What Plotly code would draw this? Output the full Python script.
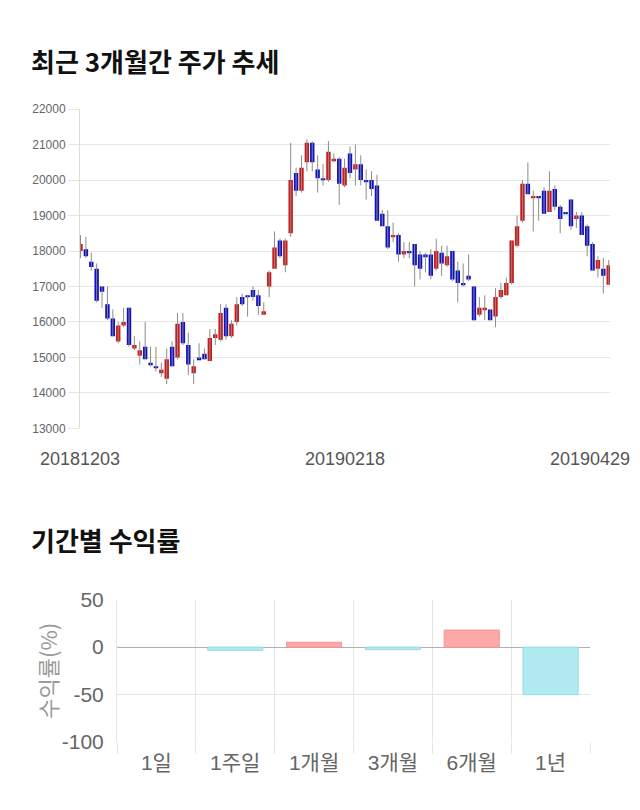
import plotly.graph_objects as go
import pandas as pd

# ---- data -------------------------------------------------------------
holidays = ["2018-12-25", "2018-12-31", "2019-01-01", "2019-02-04",
            "2019-02-05", "2019-02-06", "2019-03-01"]
dates = [d.strftime("%Y%m%d") for d in
         pd.bdate_range("2018-12-03", "2019-04-29")
         if d.strftime("%Y-%m-%d") not in holidays]

opens = [18000, 18050, 17700, 17500, 17000, 16500, 16100, 15450, 15900, 16400,
         15250, 15050, 15300, 14850, 14750, 14550, 14400, 15300, 15000, 16000,
         15350, 14550, 15000, 15100, 14900, 15550, 15500, 16400, 15600, 16000,
         16700, 16750, 16900, 16750, 16200, 17000, 17500, 18300, 17600, 18500,
         20200, 19700, 20500, 21050, 20300, 20050, 20000, 20550, 20600, 19850,
         20750, 20300, 20450, 20000, 20000, 19850, 19050, 18700, 18400, 18450,
         17900, 18000, 18200, 17900, 17900, 17900, 17500, 17950, 17600, 18000,
         17450, 17100, 17300, 17000, 16200, 16350, 16350, 16150, 16700, 16750,
         17100, 18150, 18850, 19900, 19500, 19550, 19700, 19100, 19750, 19250,
         19100, 19450, 18900, 19000, 18700, 18200, 17500, 17500, 17050]
highs = [18450, 18400, 17950, 17650, 17000, 17000, 16350, 16000, 16400, 16400,
         15600, 15450, 16000, 15300, 15300, 14850, 15250, 15450, 16250, 16250,
         15700, 14950, 15400, 15250, 15800, 15800, 16500, 16500, 16050, 16700,
         16800, 16750, 17000, 16900, 16550, 17450, 18550, 18350, 18350, 21050,
         20350, 20700, 21150, 21100, 20700, 20450, 21100, 20750, 20650, 20600,
         20950, 21000, 20700, 20300, 20250, 20150, 19150, 19150, 18800, 18500,
         18250, 18250, 18200, 18000, 17950, 18050, 18350, 18150, 18150, 18000,
         17700, 17650, 17900, 17000, 16700, 16750, 16350, 16950, 17100, 17250,
         18300, 19000, 20000, 20500, 19700, 19550, 19800, 20250, 19850, 19300,
         19100, 19450, 19100, 19100, 18750, 18250, 17850, 17800, 17750]
lows = [17800, 17800, 17450, 16550, 16400, 16050, 15600, 15400, 15850, 15300,
        15200, 14800, 14950, 14750, 14600, 14450, 14250, 14750, 14950, 15350,
        14500, 14250, 14950, 14950, 14900, 15350, 15450, 15500, 15550, 15900,
        16450, 16150, 16600, 16200, 16200, 16700, 17500, 17800, 17400, 18400,
        19550, 19650, 20250, 20250, 19650, 19850, 19950, 20500, 19300, 19800,
        20050, 19850, 19850, 19450, 19550, 18850, 18700, 18050, 18250, 17700,
        17800, 17800, 17000, 17200, 17400, 17200, 17450, 17300, 17550, 17150,
        16550, 17000, 17150, 16050, 16150, 16050, 16050, 15850, 16650, 16750,
        17050, 18100, 18800, 19600, 18550, 18850, 19050, 19100, 19150, 18500,
        19050, 18600, 18650, 18450, 17850, 17450, 17250, 16800, 17050]
closes = [18200, 17850, 17550, 16600, 16850, 16100, 15600, 15900, 16000, 15350,
          15350, 15200, 14950, 14800, 14700, 14650, 14950, 14750, 15950, 15400,
          14800, 14750, 14950, 14950, 15550, 15650, 16250, 15600, 15950, 16500,
          16500, 16700, 16700, 16450, 16300, 17400, 18100, 17850, 18300, 20000,
          19700, 20350, 21050, 20500, 20050, 20000, 20800, 20600, 19900, 20350,
          20200, 20450, 20000, 19950, 19750, 18850, 18700, 18100, 18450, 17900,
          18000, 17950, 17600, 17500, 17850, 17300, 18000, 17650, 17850, 17200,
          17100, 17050, 17200, 16050, 16400, 16400, 16050, 16700, 16900, 17100,
          18300, 18700, 19900, 19600, 19550, 19500, 19050, 19700, 19250, 18900,
          19050, 18700, 19000, 18450, 18150, 17450, 17750, 17300, 17600]

date_tick_labels = ["20181203", "20190218", "20190429"]

periods = ["1일", "1주일", "1개월", "3개월", "6개월", "1년"]
returns = [0.0, -3.4, 5.1, -2.7, 18.0, -50.3]
return_ticks = [50, 0, -50, -100]
return_tick_labels = ["50", "0", "-50", "-100"]

# ---- styles -----------------------------------------------------------
UP, DOWN, WICK = "#cc1b1b", "#1010c4", "#8c8c8c"
GRID = "#e6e6e6"
KFONT = "Noto Sans CJK KR"
NFONT = "Liberation Sans, Noto Sans CJK KR"

fig = go.Figure()

# wicks
wx, wy = [], []
for d, lo, hi in zip(dates, lows, highs):
    wx += [d, d, None]
    wy += [lo, hi, None]
fig.add_trace(go.Scatter(x=wx, y=wy, mode="lines", line=dict(color=WICK, width=1),
                         hoverinfo="skip", showlegend=False, xaxis="x", yaxis="y"))

# bodies
fig.add_trace(go.Bar(
    x=dates,
    base=[min(o, c) for o, c in zip(opens, closes)],
    y=[abs(c - o) for o, c in zip(opens, closes)],
    marker=dict(color=[UP if c > o else DOWN for o, c in zip(opens, closes)],
                line=dict(width=0)),
    width=0.82, showlegend=False, xaxis="x", yaxis="y"))

# returns
fig.add_trace(go.Bar(
    x=periods, y=returns, width=0.7,
    marker=dict(color=["#ffa8a8" if v > 0 else "#b2eaf2" for v in returns],
                line=dict(color=["#f59494" if v > 0 else "#98dbe6" for v in returns],
                          width=[0 if v == 0 else 1 for v in returns])),
    showlegend=False, xaxis="x2", yaxis="y2"))

W, H = 640, 810
def px(x): return x / W
def py(y): return 1 - y / H

fig.update_layout(
    width=W, height=H, margin=dict(l=0, r=0, t=0, b=0),
    paper_bgcolor="white", plot_bgcolor="white",
    font=dict(family=NFONT, color="#666"),
    xaxis=dict(domain=[px(80), px(610)], anchor="y", type="category",
               range=[-0.09, 98.24], showticklabels=False, showgrid=False,
               zeroline=False, showline=False, fixedrange=True),
    yaxis=dict(domain=[py(428.5), py(100)], anchor="x", range=[13000, 22000],
               dtick=1000, tickformat="d", showgrid=True, gridcolor=GRID,
               gridwidth=1, ticks="outside", ticklen=11, tickcolor=GRID,
               tickfont=dict(size=12, color="#666", family=NFONT),
               showline=True, linecolor="#dcdcdc", zeroline=False),
    xaxis2=dict(domain=[px(117), px(590)], anchor="y2", type="category",
                showgrid=True, gridcolor=GRID, tickson="boundaries",
                ticks="outside", ticklen=11, tickcolor=GRID,
                ticklabelstandoff=6,
                tickfont=dict(size=21, color="#666", family=NFONT),
                showline=False, zeroline=False),
    yaxis2=dict(domain=[py(751), py(605)], anchor="x2", range=[-100, 50],
                tickvals=return_ticks, ticktext=return_tick_labels,
                showgrid=True, gridcolor=GRID,
                zeroline=True, zerolinecolor="#b0b0b0", zerolinewidth=1,
                showline=True, linecolor=GRID, ticklabelstandoff=8,
                tickfont=dict(size=21, color="#666", family=NFONT)),
)

ann = [
    dict(text="<b>최근 3개월간 주가 추세</b>", x=px(29), y=py(50), xref="paper",
         yref="paper", xanchor="left", yanchor="middle", showarrow=False,
         font=dict(family=KFONT, size=26, color="#111")),
    dict(text="<b>기간별 수익률</b>", x=px(29), y=py(543), xref="paper",
         yref="paper", xanchor="left", yanchor="middle", showarrow=False,
         font=dict(family=KFONT, size=26, color="#111")),
    dict(text="수익률(%)", x=px(47), y=py(678), xref="paper", yref="paper",
         textangle=-90, xanchor="center", yanchor="middle", showarrow=False,
         font=dict(family=KFONT, size=22, color="#999")),
]
for k, lab in enumerate(date_tick_labels):
    ann.append(dict(text=lab, x=dates.index(lab), y=py(460), xref="x",
                    yref="paper", xanchor="center", yanchor="middle",
                    showarrow=False,
                    xshift=-19 if k == len(date_tick_labels) - 1 else 0,
                    font=dict(family=NFONT, size=18, color="#555")))
fig.update_layout(annotations=ann)

fig.write_html("out.html")
